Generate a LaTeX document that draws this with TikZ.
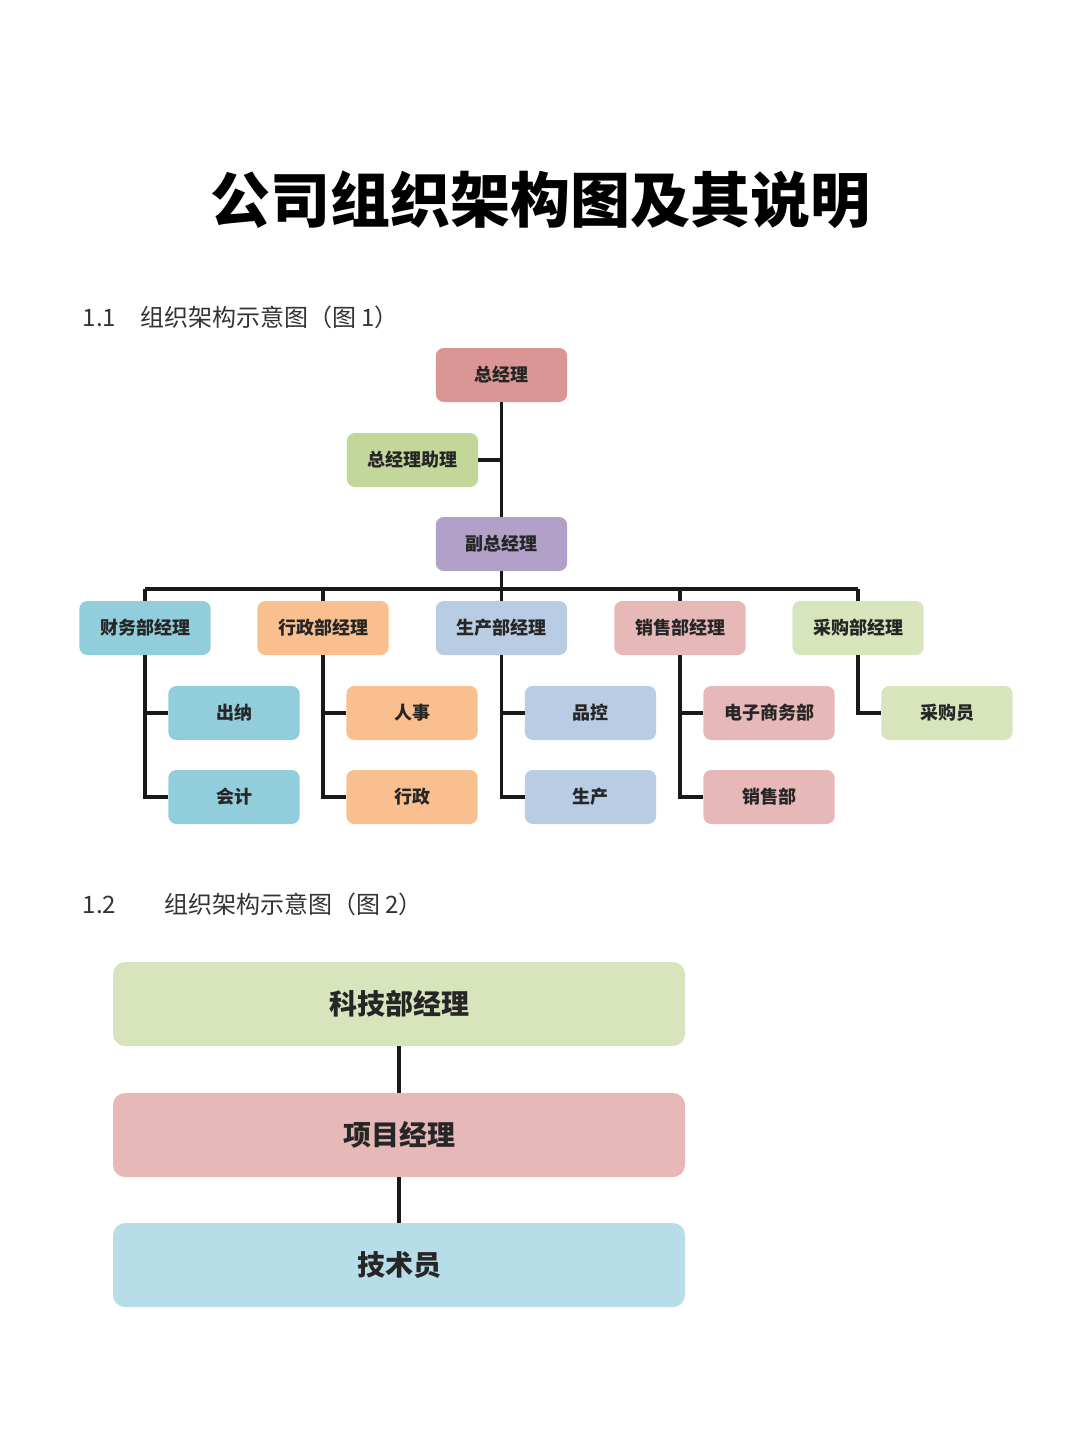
\documentclass[tikz,border=0pt]{standalone}
\usepackage{fontspec}
\newfontfamily\cjk{Noto Sans CJK SC}
\newfontfamily\cjkb{Noto Sans CJK SC Black}
\usetikzlibrary{calc}
\definecolor{cR}{HTML}{DA9694}
\definecolor{cG}{HTML}{C4D79B}
\definecolor{cP}{HTML}{B1A0C7}
\definecolor{cB}{HTML}{92CDDC}
\definecolor{cO}{HTML}{FABF8F}
\definecolor{cLB}{HTML}{B8CCE4}
\definecolor{cPk}{HTML}{E6B8B7}
\definecolor{cLG}{HTML}{D8E4BC}
\definecolor{cC}{HTML}{B7DEE8}
\tikzset{
 bx/.style={rounded corners=6pt,minimum width=98.5pt,minimum height=40.5pt,inner sep=0pt,font=\cjk\bfseries\fontsize{13.5}{14}\selectfont,text=black!85},
 big/.style={rounded corners=9pt,minimum width=429pt,minimum height=63pt,inner sep=0pt,font=\cjk\bfseries\fontsize{21}{22}\selectfont,text=black!85},
 ln/.style={line width=2.4pt,black!90},
}
\begin{document}
\begin{tikzpicture}[x=0.75pt,y=-0.75pt]
\useasboundingbox (0,0) rectangle (1080,1439);
\node[font=\cjkb\fontsize{45}{48}\selectfont] (title) at (540,200) {公司组织架构图及其说明};
\node[anchor=west,font=\cjk\fontsize{18}{20}\selectfont,text=black!80] (s1) at (78,317) {1.1\quad 组织架构示意图（图 1）};
\node[anchor=west,font=\cjk\fontsize{18}{20}\selectfont,text=black!80] (s2) at (78,904) {1.2\qquad 组织架构示意图（图 2）};
% chart 1
\node[bx,fill=cR] (gm) at (501.5,375) {总经理};
\node[bx,fill=cG] (as) at (412.5,460) {总经理助理};
\node[bx,fill=cP] (vp) at (501.5,544) {副总经理};
\coordinate (busL) at (145,589);
\coordinate (busR) at (858,589);
\draw[ln] (gm.south) -- (vp.north);
\draw[ln] (as.east) -- (as.east -| gm.south);
\draw[ln] (vp.south) -- (vp.south |- busL);
\draw[ln] (busL) -- (busR);
\foreach \n/\x/\c/\t in {a/145/cB/财务部经理,b/323/cO/行政部经理,c/501.5/cLB/生产部经理,d/680/cPk/销售部经理,e/858/cLG/采购部经理}{
 \node[bx,fill=\c] (\n) at (\x,628) {\t};
 \draw[ln] (\n.north |- busL) -- (\n.north);
}
\foreach \n/\c/\ta/\tb in {a/cB/出纳/会计,b/cO/人事/行政,c/cLB/品控/生产,d/cPk/电子商务部/销售部}{
 \node[bx,fill=\c] (\n1) at ($(\n)+(89,85)$) {\ta};
 \node[bx,fill=\c] (\n2) at ($(\n)+(89,169)$) {\tb};
 \draw[ln] (\n.south) |- (\n2.west);
 \draw[ln] (\n1.west) -- (\n1.west -| \n.south);
}
\node[bx,fill=cLG] (e1) at ($(e)+(89,85)$) {采购员};
\draw[ln] (e.south) |- (e1.west);
% chart 2
\node[big,fill=cLG] (k1) at (399,1004) {科技部经理};
\node[big,fill=cPk] (k2) at (399,1135) {项目经理};
\node[big,fill=cC] (k3) at (399,1265) {技术员};
\draw[ln] (k1.south) -- (k2.north);
\draw[ln] (k2.south) -- (k3.north);
\end{tikzpicture}
\end{document}
